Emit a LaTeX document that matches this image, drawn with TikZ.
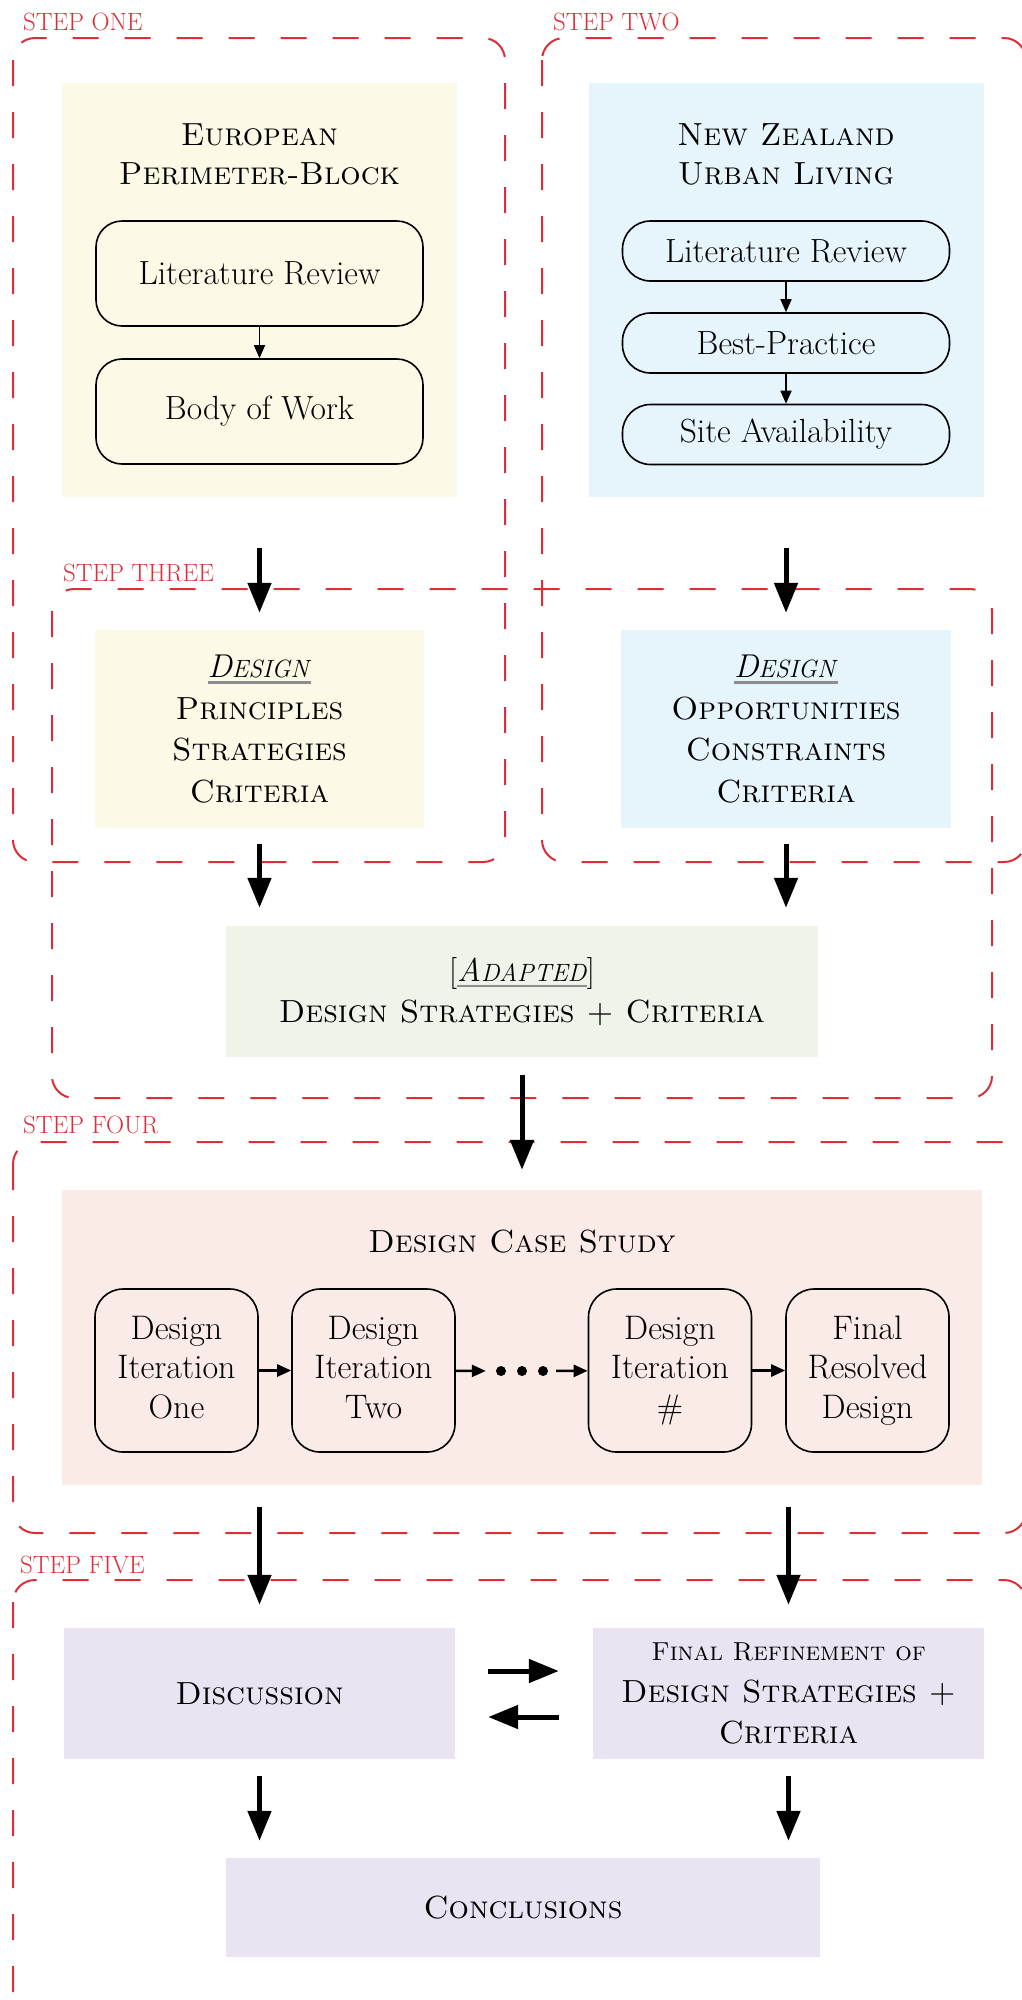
\documentclass[tikz,border=0pt]{standalone}
\usepackage{fontspec}
\usetikzlibrary{arrows.meta}
\definecolor{stepred}{RGB}{222,45,55}
\definecolor{pyellow}{RGB}{252,250,230}
\definecolor{pblue}{RGB}{230,244,252}
\definecolor{pgreen}{RGB}{239,243,233}
\definecolor{ppink}{RGB}{250,235,230}
\definecolor{plav}{RGB}{234,228,242}
\definecolor{ulgray}{RGB}{140,140,145}
\newsavebox\ulbox
\newcommand\iscap[2]{\textit{{\fontsize{33}{33}\selectfont #1}{\fontsize{25}{25}\selectfont #2}}}
\newcommand\grayul[1]{\sbox\ulbox{#1}\rlap{\textcolor{ulgray}{\rule[-6pt]{\wd\ulbox}{2.5pt}}}\usebox\ulbox}
\tikzset{
  stepbox/.style={draw=stepred, line width=2pt, dash pattern=on 26pt off 26pt, rounded corners=22pt},
  steplabel/.style={text=stepred, font=\fontsize{25}{30}\selectfont, anchor=base west, inner sep=0pt},
  panel/.style={inner sep=0pt, draw=none, align=center, font=\fontsize{32}{41.5}\selectfont},
  rbox/.style={draw=black, line width=1.6pt, inner sep=0pt, align=center, font=\fontsize{33.5}{39.5}\selectfont},
  iterbox/.style={rbox, rounded corners=28pt, minimum width=163pt, minimum height=163pt, font=\fontsize{34}{39.5}\selectfont},
  bigarrow/.style={line width=5pt, -{Triangle[width=23pt,length=30pt]}},
  smallarrow/.style={line width=1.5pt, -{Triangle[width=11pt,length=13pt]}},
  midarrow/.style={line width=2.5pt, -{Triangle[width=12pt,length=14pt]}},
  titletext/.style={font=\fontsize{32}{39}\selectfont, align=center, inner sep=0pt},
  dotnode/.style={circle, fill=black, minimum size=10pt, inner sep=0pt}
}
\begin{document}
\begin{tikzpicture}[x=1pt,y=-1pt]
\useasboundingbox (0,0) rectangle (1022,2000);
\clip (0,0) rectangle (1022,2000);

% ---------- panels ----------
\node[panel, fill=pyellow, minimum width=395pt, minimum height=414pt] (A1) at (259.5,290) {};
\node[panel, fill=pblue, minimum width=395pt, minimum height=414pt] (B1) at (786,290) {};
\node[panel, fill=pyellow, minimum width=329pt, minimum height=198pt] (A2) at (259.5,729)
  {\grayul{\iscap{D}{ESIGN}}\\\textsc{Principles}\\\textsc{Strategies}\\\textsc{Criteria}};
\node[panel, fill=pblue, minimum width=330pt, minimum height=198pt] (B2) at (786,729)
  {\grayul{\iscap{D}{ESIGN}}\\\textsc{Opportunities}\\\textsc{Constraints}\\\textsc{Criteria}};
\node[panel, fill=pgreen, minimum width=592pt, minimum height=131pt] (C) at (522,991.5)
  {[\grayul{\iscap{A}{DAPTED}}]\\\textsc{Design Strategies + Criteria}};
\node[panel, fill=ppink, minimum width=920pt, minimum height=295pt] (D) at (522,1337.5) {};
\node[panel, fill=plav, minimum width=391pt, minimum height=131pt] (E) at (259.5,1693.5)
  {\textsc{Discussion}};
\node[panel, fill=plav, minimum width=391pt, minimum height=131pt] (F) at (788.5,1693.5)
  {{\fontsize{26}{41.5}\selectfont\textsc{Final Refinement of}}\\\textsc{Design Strategies +}\\\textsc{Criteria}};
\node[panel, fill=plav, minimum width=594pt, minimum height=99pt] (G) at (523,1907.5)
  {\textsc{Conclusions}};

% ---------- titles ----------
\node[titletext] (A1t) at (259.5,154) {\textsc{European}\\\textsc{Perimeter-Block}};
\node[titletext] (B1t) at (786,154) {\textsc{New Zealand}\\\textsc{Urban Living}};
\node[titletext, anchor=base] (Dt) at (522,1252) {\textsc{Design Case Study}};

% ---------- inner rounded boxes ----------
\node[rbox, rounded corners=26pt, minimum width=327pt, minimum height=105pt] (A1a) at (259.5,273.5) {Literature Review};
\node[rbox, rounded corners=26pt, minimum width=327pt, minimum height=105pt] (A1b) at (259.5,411.5) {Body of Work};
\node[rbox, rounded corners=28pt, minimum width=327pt, minimum height=60pt] (B1a) at (786,251) {Literature Review};
\node[rbox, rounded corners=28pt, minimum width=327pt, minimum height=60pt] (B1b) at (786,343) {Best-Practice};
\node[rbox, rounded corners=28pt, minimum width=327pt, minimum height=60pt] (B1c) at (786,434.5) {Site Availability};

\node[iterbox] (I1) at (176.5,1370.5) {Design\\Iteration\\One\vphantom{g}};
\node[iterbox] (I2) at (373.5,1370.5) {Design\\Iteration\\Two\vphantom{g}};
\node[iterbox] (I3) at (670,1370.5) {Design\\Iteration\\\#\vphantom{g}};
\node[iterbox] (I4) at (867.5,1370.5) {Final\\Resolved\\Design};
\node[dotnode] (d1) at (501,1371) {};
\node[dotnode] (d2) at (522,1371) {};
\node[dotnode] (d3) at (543,1371) {};

% ---------- step frames ----------
\draw[stepbox] (13,38) rectangle (505,862);
\draw[stepbox] (542,38) rectangle (1026,862);
\draw[stepbox] (52,589) rectangle (992,1098);
\draw[stepbox] (13,1142) rectangle (1026,1533);
\draw[stepbox] (13,1580) rectangle (1026,2060);

\node[steplabel] (L1) at (23,30) {STEP ONE};
\node[steplabel] (L2) at (553,30) {STEP TWO};
\node[steplabel] (L3) at (63,581) {STEP THREE};
\node[steplabel] (L4) at (23,1133) {STEP FOUR};
\node[steplabel] (L5) at (20,1573) {STEP FIVE};

% ---------- connectors ----------
\draw[smallarrow] (A1a) -- (A1b);
\draw[smallarrow] (B1a) -- (B1b);
\draw[smallarrow] (B1b) -- (B1c);

\draw[bigarrow, shorten <=51pt, shorten >=17pt] (A1.south) -- (A2.north);
\draw[bigarrow, shorten <=51pt, shorten >=17pt] (B1.south) -- (B2.north);
\draw[bigarrow, shorten <=16pt, shorten >=18pt] (A2.south) -- (A2.south |- C.north);
\draw[bigarrow, shorten <=16pt, shorten >=18pt] (B2.south) -- (B2.south |- C.north);
\draw[bigarrow, shorten <=18pt, shorten >=20pt] (C.south) -- (C.south |- D.north);

\draw[midarrow] (I1) -- (I2);
\draw[midarrow, shorten >=10pt] (I2) -- (d1);
\draw[midarrow, shorten <=8pt] (d3) -- (I3);
\draw[midarrow] (I3) -- (I4);

\draw[bigarrow, shorten <=22pt, shorten >=23pt] (D.south -| E.north) -- (E.north);
\draw[bigarrow, shorten <=22pt, shorten >=23pt] (D.south -| F.north) -- (F.north);
\draw[bigarrow, shorten <=33pt, shorten >=34pt] ([yshift=22.5pt]E.east) -- ([yshift=22.5pt]F.west);
\draw[bigarrow, shorten <=34pt, shorten >=33pt] ([yshift=-23.5pt]F.west) -- ([yshift=-23.5pt]E.east);
\draw[bigarrow, shorten <=17pt, shorten >=17pt] (E.south) -- (E.south |- G.north);
\draw[bigarrow, shorten <=17pt, shorten >=17pt] (F.south) -- (F.south |- G.north);
\end{tikzpicture}
\end{document}
